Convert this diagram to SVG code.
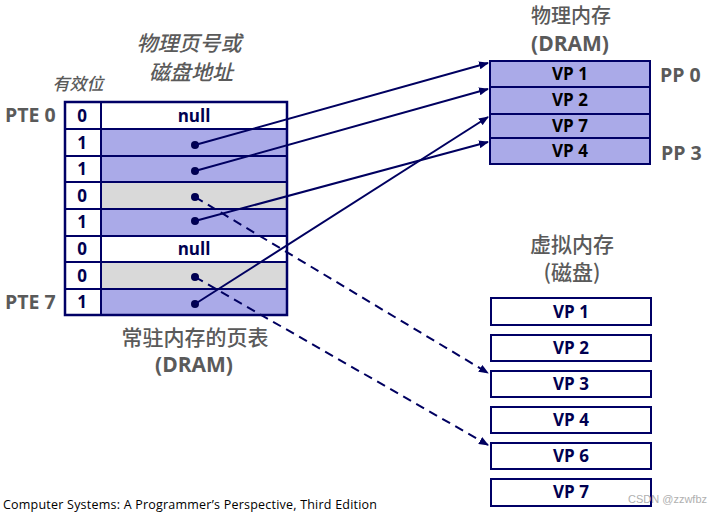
<svg xmlns="http://www.w3.org/2000/svg" width="719" height="515" viewBox="0 0 719 515">
<defs>
<style>
.b{font-family:"Open Sans","Liberation Sans",sans-serif;font-weight:bold;fill:#000050;font-size:17px;text-anchor:middle}
.g{font-family:"Open Sans","Liberation Sans",sans-serif;font-weight:bold;fill:#5a5a5a;font-size:19.5px}
.t{font-family:"Noto Sans CJK SC","Liberation Serif",serif;fill:#5a5a5a;font-size:21px;text-anchor:middle;font-weight:500}
.ti{font-family:"Noto Sans CJK SC","Liberation Serif",serif;fill:#5a5a5a;font-size:21px;text-anchor:middle;font-style:italic;font-weight:500}
.pu{fill:#aaaae8;stroke:#000066;stroke-width:2}
.gr{fill:#d9d9d9;stroke:#000066;stroke-width:2}
.wh{fill:#ffffff;stroke:#000066;stroke-width:2}
.ln{stroke:#000060;stroke-width:2;fill:none}
.ds{stroke:#000060;stroke-width:2;fill:none;stroke-dasharray:9 6}
</style>
<marker id="ah" markerWidth="10" markerHeight="8" refX="9" refY="4" orient="auto" markerUnits="userSpaceOnUse">
<path d="M0,0 L10,4 L0,8 Z" fill="#000060"/>
</marker>
</defs>
<rect width="719" height="515" fill="#ffffff"/>

<g id="pt-titles">
<text class="ti" x="189" y="51">物理页号或</text>
<text class="ti" x="191" y="80">磁盘地址</text>
<text class="ti" x="78" y="90" style="font-size:17px">有效位</text>
<text class="g" x="5" y="122">PTE 0</text>
<text class="g" x="5" y="309">PTE 7</text>
</g>

<g id="page-table">
<rect class="wh" x="65" y="102" width="36" height="27"/><rect class="wh" x="101" y="102" width="186" height="27"/>
<rect class="wh" x="65" y="129" width="36" height="27"/><rect class="pu" x="101" y="129" width="186" height="27"/>
<rect class="wh" x="65" y="156" width="36" height="26"/><rect class="pu" x="101" y="156" width="186" height="26"/>
<rect class="wh" x="65" y="182" width="36" height="27"/><rect class="gr" x="101" y="182" width="186" height="27"/>
<rect class="wh" x="65" y="209" width="36" height="27"/><rect class="pu" x="101" y="209" width="186" height="27"/>
<rect class="wh" x="65" y="236" width="36" height="26"/><rect class="wh" x="101" y="236" width="186" height="26"/>
<rect class="wh" x="65" y="262" width="36" height="27"/><rect class="gr" x="101" y="262" width="186" height="27"/>
<rect class="wh" x="65" y="289" width="36" height="26"/><rect class="pu" x="101" y="289" width="186" height="26"/>
<rect x="65" y="102" width="222" height="213" fill="none" stroke="#000066" stroke-width="2.5"/>
<text class="b" x="82" y="122">0</text><text class="b" x="194" y="122">null</text>
<text class="b" x="82" y="149">1</text>
<text class="b" x="82" y="175">1</text>
<text class="b" x="82" y="202">0</text>
<text class="b" x="82" y="228">1</text>
<text class="b" x="82" y="255">0</text><text class="b" x="194" y="255">null</text>
<text class="b" x="82" y="282">0</text>
<text class="b" x="82" y="308">1</text>
<circle cx="195" cy="145" r="4" fill="#000050"/>
<circle cx="195" cy="171" r="4" fill="#000050"/>
<circle cx="195" cy="197" r="4" fill="#000050"/>
<circle cx="195" cy="221" r="4" fill="#000050"/>
<circle cx="195" cy="277" r="4" fill="#000050"/>
<circle cx="195" cy="304" r="4" fill="#000050"/>
<text class="t" x="195" y="345">常驻内存的页表</text>
<text class="g" x="194" y="372" text-anchor="middle" style="font-size:21px">(DRAM)</text>
</g>

<g id="physical-memory">
<text class="t" x="571" y="23" style="font-size:20px">物理内存</text>
<text class="g" x="570" y="51" text-anchor="middle" style="font-size:21px">(DRAM)</text>
<rect class="pu" x="490" y="61" width="160" height="26"/>
<rect class="pu" x="490" y="87" width="160" height="27"/>
<rect class="pu" x="490" y="114" width="160" height="24"/>
<rect class="pu" x="490" y="138" width="160" height="26"/>
<text class="b" x="570" y="80" style="fill:#000">VP 1</text>
<text class="b" x="570" y="106" style="fill:#000">VP 2</text>
<text class="b" x="570" y="132" style="fill:#000">VP 7</text>
<text class="b" x="570" y="157" style="fill:#000">VP 4</text>
<text class="g" x="660" y="82">PP 0</text>
<text class="g" x="661" y="160">PP 3</text>
</g>

<g id="virtual-memory">
<text class="t" x="572" y="252">虚拟内存</text>
<text class="t" x="572" y="280">(磁盘)</text>
<rect class="wh" x="491" y="298" width="160" height="27"/>
<rect class="wh" x="491" y="335" width="160" height="26"/>
<rect class="wh" x="491" y="371" width="160" height="26"/>
<rect class="wh" x="491" y="407" width="160" height="26"/>
<rect class="wh" x="491" y="443" width="160" height="26"/>
<rect class="wh" x="491" y="479" width="160" height="27"/>
<text class="b" x="571" y="318">VP 1</text>
<text class="b" x="571" y="354">VP 2</text>
<text class="b" x="571" y="390">VP 3</text>
<text class="b" x="571" y="426">VP 4</text>
<text class="b" x="571" y="462">VP 6</text>
<text class="b" x="571" y="498">VP 7</text>
</g>

<g id="connectors">
<line class="ln" x1="195" y1="145" x2="488" y2="63" marker-end="url(#ah)"/>
<line class="ln" x1="195" y1="171" x2="488" y2="89" marker-end="url(#ah)"/>
<line class="ln" x1="195" y1="221" x2="488" y2="142" marker-end="url(#ah)"/>
<line class="ln" x1="195" y1="304" x2="488" y2="117" marker-end="url(#ah)"/>
<line class="ds" x1="195" y1="197" x2="488" y2="373" marker-end="url(#ah)"/>
<line class="ds" x1="195" y1="277" x2="488" y2="445" marker-end="url(#ah)"/>
</g>

<text x="3" y="509" font-family="'Open Sans','Liberation Sans',sans-serif" font-size="12.5" fill="#000" textLength="374">Computer Systems: A Programmer’s Perspective, Third Edition</text>
<text x="628" y="503" font-family="'Liberation Sans',sans-serif" font-size="11" fill="#b0b0b0">CSDN @zzwfbz</text>
</svg>
